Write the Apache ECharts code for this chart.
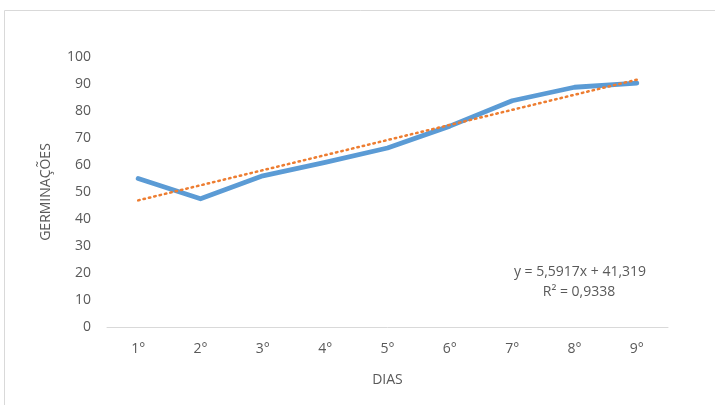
<!DOCTYPE html>
<html>
<head>
<meta charset="utf-8">
<script src="https://cdn.jsdelivr.net/npm/echarts@6/dist/echarts.min.js"></script>
<style>html,body{margin:0;padding:0;background:#fff;}#c{width:715px;height:405px;}</style>
</head>
<body>
<div id="c"></div>
<script>
const categories = ['1°','2°','3°','4°','5°','6°','7°','8°','9°'];
const germinacoes = [55, 47.5, 56, 61, 66.3, 74.4, 83.8, 88.8, 90.3];
const trendEnds = [[0, 46.9], [8, 91.6]];
const yTicks = [0, 10, 20, 30, 40, 50, 60, 70, 80, 90, 100];
const equationText = ['y = 5,5917x + 41,319', 'R² = 0,9338'];

const font = 'Open Sans';
const chart = echarts.init(document.getElementById('c'));
chart.setOption({
  animation: false,
  graphic: [
    { type: 'rect', shape: { x: 4.5, y: 10.5, width: 730, height: 420 }, style: { fill: 'none', stroke: '#d9d9d9', lineWidth: 1 } },
    { type: 'text', x: 580, y: 272, style: { text: equationText[0], align: 'center', verticalAlign: 'middle', font: '14px "' + font + '"', fill: '#595959' } },
    { type: 'text', x: 579, y: 292, style: { text: equationText[1], align: 'center', verticalAlign: 'middle', font: '14px "' + font + '"', fill: '#595959' } }
  ],
  grid: { left: 107, right: 47, top: 57, bottom: 78 },
  xAxis: {
    type: 'category', data: categories, boundaryGap: true,
    axisLine: { lineStyle: { color: '#d9d9d9', width: 1 } },
    axisTick: { show: false },
    axisLabel: { color: '#595959', fontFamily: font, fontSize: 14, margin: 15 },
    name: 'DIAS', nameLocation: 'middle', nameGap: 46,
    nameTextStyle: { color: '#595959', fontFamily: font, fontSize: 14 }
  },
  yAxis: {
    type: 'value', min: yTicks[0], max: yTicks[yTicks.length - 1], interval: 10,
    axisLine: { show: false }, axisTick: { show: false },
    splitLine: { show: false },
    axisLabel: { color: '#595959', fontFamily: font, fontSize: 14, margin: 16 },
    name: 'GERMINAÇÕES', nameLocation: 'middle', nameGap: 54, nameRotate: 90,
    nameTextStyle: { color: '#595959', fontFamily: font, fontSize: 14 }
  },
  series: [
    { type: 'line', data: germinacoes, symbol: 'none', lineStyle: { color: '#5B9BD5', width: 4.8, cap: 'round', join: 'round' }, z: 2 },
    { type: 'line', data: trendEnds, symbol: 'none', lineStyle: { color: '#ED7D31', width: 2.5, type: [1.5, 4], cap: 'round' }, z: 3 }
  ]
});
</script>
</body>
</html>
